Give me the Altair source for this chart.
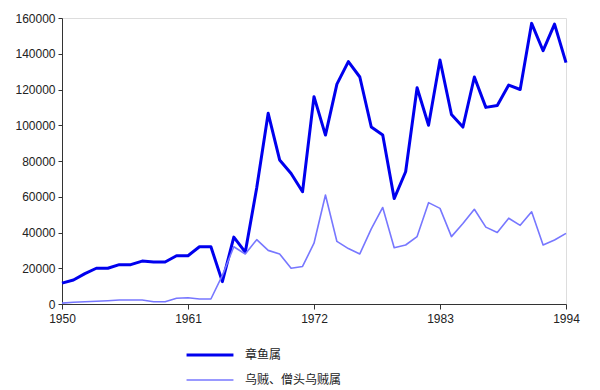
import altair as alt
import pandas as pd

years = list(range(1950, 1995))
octopus = [11700, 13400, 17000, 20000, 20000, 22000, 22000, 24000, 23500, 23500,
           27000, 27000, 32000, 32000, 12500, 37400, 29000, 65000, 106700, 80600,
           73000, 62800, 116000, 94500, 123000, 135600, 127000, 99000, 94500, 59000,
           74000, 121000, 100000, 136500, 106000, 99000, 127000, 110000, 111000, 122500,
           120000, 157000, 141700, 156600, 135000]
cuttle = [500, 1000, 1300, 1500, 1800, 2200, 2200, 2200, 1300, 1300,
          3200, 3500, 2800, 2800, 16000, 32000, 28000, 36000, 30000, 28000,
          20000, 21000, 34000, 61000, 35000, 31000, 28000, 42000, 54000, 31500,
          33000, 37700, 56700, 53500, 37700, 45000, 53000, 43000, 40000, 48000,
          44000, 51600, 33000, 35800, 39500]
series_names = ["章鱼属", "乌贼、僧头乌贼属"]

df = pd.concat([
    pd.DataFrame({"year": years, "value": octopus, "series": series_names[0]}),
    pd.DataFrame({"year": years, "value": cuttle, "series": series_names[1]}),
])

legend_opts = dict(title=None, orient="none", legendX=123, legendY=329,
                   symbolType="stroke", symbolSize=2200, clipHeight=16,
                   labelFontSize=12, labelFont="Noto Sans CJK SC",
                   labelColor="#222222", labelOffset=10, rowPadding=9)

axis_common = dict(title=None, grid=False, domainColor="#333333", tickColor="#333333",
                   labelFontSize=12, labelColor="#222222", labelFont="Liberation Sans",
                   format="d")

chart = alt.Chart(df).mark_line(strokeJoin="round").encode(
    x=alt.X("year:Q", scale=alt.Scale(domain=[1950, 1994], nice=False, zero=False),
            axis=alt.Axis(values=[1950, 1961, 1972, 1983, 1994], tickSize=5,
                          labelPadding=4, labelFlush=False, labelOverlap=False,
                          **axis_common)),
    y=alt.Y("value:Q", scale=alt.Scale(domain=[0, 160000], nice=False),
            axis=alt.Axis(values=list(range(0, 160001, 20000)), tickSize=4,
                          labelPadding=3, labelFlush=False, **axis_common)),
    color=alt.Color("series:N",
                    scale=alt.Scale(domain=series_names, range=["#0000ee", "#7777ff"]),
                    legend=alt.Legend(**legend_opts)),
    strokeWidth=alt.StrokeWidth("series:N",
                                scale=alt.Scale(domain=series_names, range=[3, 1.6]),
                                legend=alt.Legend(**legend_opts)),
).properties(
    width=504, height=286,
    padding={"left": 62, "top": 18, "right": 34, "bottom": 86},
    autosize=alt.AutoSizeParams(type="none"),
).configure_view(stroke="#999999", strokeWidth=1).configure(background="white")

chart.save("out.html", embed_options={"renderer": "svg", "actions": False})
